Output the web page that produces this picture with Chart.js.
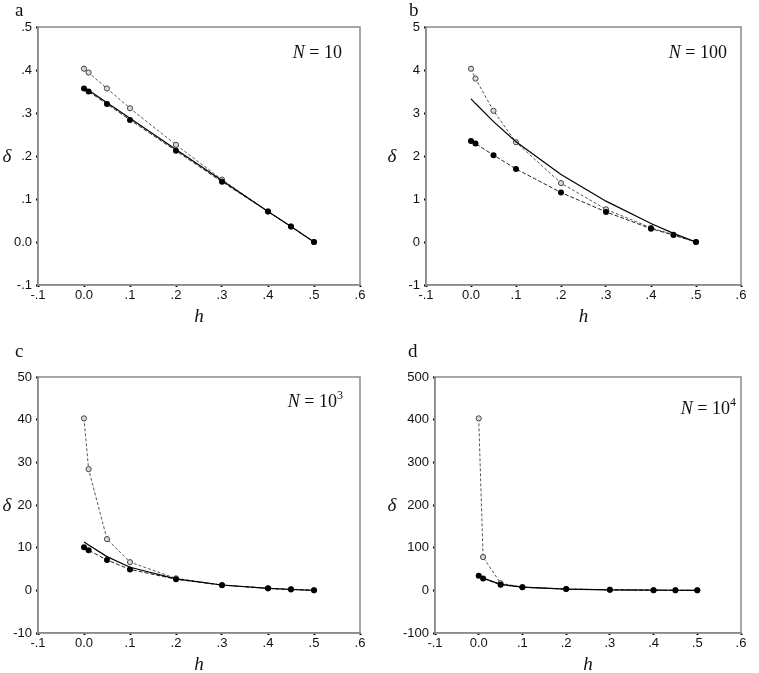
<!DOCTYPE html>
<html>
<head>
<meta charset="utf-8">
<script src="https://cdn.jsdelivr.net/npm/chart.js@4.4.1/dist/chart.umd.min.js"></script>
<style>
  html, body { margin: 0; padding: 0; background: #fff; }
  #wrap { position: relative; width: 759px; height: 673px; overflow: hidden; }
  .panel { position: absolute; }
</style>
</head>
<body>
<div id="wrap">
  <div class="panel" style="left:0px;top:0px;width:380px;height:330px;"><canvas id="ca"></canvas></div>
  <div class="panel" style="left:380px;top:0px;width:379px;height:330px;"><canvas id="cb"></canvas></div>
  <div class="panel" style="left:0px;top:330px;width:380px;height:343px;"><canvas id="cc"></canvas></div>
  <div class="panel" style="left:380px;top:330px;width:379px;height:343px;"><canvas id="cd"></canvas></div>
</div>
<script>
// ---------------- DATA ----------------
const hValues = [0, 0.01, 0.05, 0.1, 0.2, 0.3, 0.4, 0.45, 0.5];
const xTickLabels = ['-.1', '0.0', '.1', '.2', '.3', '.4', '.5', '.6'];

// Panel a, N = 10
const openA   = [0.403, 0.394, 0.357, 0.311, 0.226, 0.145, 0.071, 0.036, 0.0];
const filledA = [0.357, 0.350, 0.321, 0.284, 0.212, 0.140, 0.071, 0.036, 0.0];
const solidA  = [0.360, 0.353, 0.324, 0.288, 0.215, 0.143, 0.071, 0.036, 0.0];
const yTicksA = ['-.1', '0.0', '.1', '.2', '.3', '.4', '.5'];

// Panel b, N = 100
const openB   = [4.03, 3.80, 3.05, 2.32, 1.37, 0.76, 0.33, 0.17, 0.0];
const filledB = [2.35, 2.29, 2.02, 1.70, 1.15, 0.70, 0.31, 0.16, 0.0];
const solidB  = [3.33, 3.22, 2.80, 2.33, 1.57, 0.95, 0.43, 0.20, 0.0];
const yTicksB = ['-1', '0', '1', '2', '3', '4', '5'];

// Panel c, N = 10^3
const openC   = [40.3, 28.4, 12.0, 6.6, 2.8, 1.25, 0.45, 0.2, 0.0];
const filledC = [10.1, 9.4, 7.1, 4.9, 2.6, 1.2, 0.5, 0.25, 0.0];
const solidC  = [11.3, 10.6, 7.9, 5.4, 2.7, 1.25, 0.45, 0.2, 0.0];
const yTicksC = ['-10', '0', '10', '20', '30', '40', '50'];

// Panel d, N = 10^4
const openD   = [403, 78, 16.5, 7.5, 3.0, 1.3, 0.45, 0.2, 0.0];
const filledD = [34.3, 28.0, 13.3, 7.1, 3.0, 1.2, 0.4, 0.2, 0.0];
const solidD  = [35.0, 28.5, 14.0, 7.3, 3.0, 1.3, 0.45, 0.2, 0.0];
const yTicksD = ['-100', '0', '100', '200', '300', '400', '500'];

// ---------------- HELPERS ----------------
function pts(ys) { return hValues.map((h, i) => ({ x: h, y: ys[i] })); }

const tickFont = { family: '"Liberation Sans", Arial, sans-serif', size: 13 };
const serif = '"Liberation Serif", "Times New Roman", serif';

const framePlugin = {
  id: 'frame',
  afterDraw(chart) {
    const { ctx, chartArea: a } = chart;
    ctx.save();
    ctx.strokeStyle = '#8a8a8a';
    ctx.lineWidth = 1.5;
    ctx.strokeRect(a.left, a.top, a.right - a.left, a.bottom - a.top);
    ctx.restore();
  }
};

const labelPlugin = {
  id: 'labels',
  afterDraw(chart) {
    const o = chart.options.plugins.labels;
    const { ctx, chartArea: a } = chart;
    ctx.save();
    ctx.fillStyle = '#111';
    ctx.textBaseline = 'alphabetic';
    // panel letter
    ctx.font = '19px ' + serif;
    ctx.textAlign = 'left';
    ctx.fillText(o.letter, o.letterX, o.letterY);
    // delta
    ctx.font = 'italic 19px ' + serif;
    ctx.textAlign = 'center';
    ctx.fillText('δ', o.deltaX, (a.top + a.bottom) / 2 + 6);
    // h
    ctx.fillText('h', (a.left + a.right) / 2, a.bottom + 37);
    // N label (right aligned at o.nRight)
    const fN = 'italic 18px ' + serif, fR = '18px ' + serif, fS = '12px ' + serif;
    ctx.textAlign = 'left';
    ctx.font = fN; const wN = ctx.measureText('N').width;
    ctx.font = fR; const wEq = ctx.measureText(' = ' + o.nBase).width;
    ctx.font = fS; const wS = o.nSup ? ctx.measureText(o.nSup).width : 0;
    let x = o.nRight - (wN + wEq + wS);
    ctx.font = fN; ctx.fillText('N', x, o.nY); x += wN;
    ctx.font = fR; ctx.fillText(' = ' + o.nBase, x, o.nY); x += wEq;
    if (o.nSup) { ctx.font = fS; ctx.fillText(o.nSup, x, o.nY - 8); }
    ctx.restore();
  }
};

function makeChart(id, p) {
  const datasets = [
    { label: 'simulation (open)', data: pts(p.open), borderColor: '#555', borderWidth: 1,
      borderDash: [3, 2], pointRadius: 2.6, pointBorderWidth: 1, pointBorderColor: '#444',
      pointBackgroundColor: '#d8d8d8', order: 3, tension: 0 },
    { label: 'simulation (filled)', data: pts(p.filled), borderColor: '#222', borderWidth: 1,
      borderDash: [4, 2], pointRadius: 3, pointBorderWidth: 0, pointBackgroundColor: '#000',
      order: 2, tension: 0 },
    { label: 'theory', data: pts(p.solid), borderColor: '#000', borderWidth: 1.2,
      pointRadius: 0, order: 1, tension: 0 }
  ];
  new Chart(document.getElementById(id), {
    type: 'line',
    data: { datasets },
    plugins: [framePlugin, labelPlugin],
    options: {
      responsive: true,
      maintainAspectRatio: false,
      animation: false,
      layout: { padding: { top: p.padTop, right: p.padRight, left: 0, bottom: 0 } },
      plugins: {
        legend: { display: false },
        tooltip: { enabled: false },
        labels: p.labels
      },
      scales: {
        x: {
          type: 'linear', min: -0.1, max: 0.6,
          afterFit: s => { s.height = p.xH; },
          ticks: { stepSize: 0.1, autoSkip: false, maxRotation: 0, padding: 1,
                   font: tickFont, color: '#111',
                   callback: (v, i) => xTickLabels[i] },
          grid: { display: true, drawOnChartArea: false, drawTicks: true, tickLength: 2,
                  tickColor: '#000', tickWidth: 2 },
          border: { display: true, color: '#8a8a8a', width: 1.5 }
        },
        y: {
          type: 'linear', min: p.yMin, max: p.yMax,
          afterFit: s => { s.width = p.yW; },
          ticks: { stepSize: p.yStep, autoSkip: false, padding: 4, font: tickFont, color: '#111',
                   callback: (v, i) => p.yTicks[i] },
          grid: { display: true, drawOnChartArea: false, drawTicks: true, tickLength: 2,
                  tickColor: '#000', tickWidth: 2 },
          border: { display: true, color: '#8a8a8a', width: 1.5 }
        }
      }
    }
  });
}

makeChart('ca', { open: openA, filled: filledA, solid: solidA, yTicks: yTicksA,
  yMin: -0.1, yMax: 0.5, yStep: 0.1, yW: 38, xH: 45, padTop: 27, padRight: 20,
  labels: { letter: 'a', letterX: 15, letterY: 16, deltaX: 7, nRight: 342, nY: 58, nBase: '10', nSup: '' } });

makeChart('cb', { open: openB, filled: filledB, solid: solidB, yTicks: yTicksB,
  yMin: -1, yMax: 5, yStep: 1, yW: 46, xH: 45, padTop: 27, padRight: 18,
  labels: { letter: 'b', letterX: 29, letterY: 16, deltaX: 12, nRight: 347, nY: 58, nBase: '100', nSup: '' } });

makeChart('cc', { open: openC, filled: filledC, solid: solidC, yTicks: yTicksC,
  yMin: -10, yMax: 50, yStep: 10, yW: 38, xH: 40, padTop: 47, padRight: 20,
  labels: { letter: 'c', letterX: 15, letterY: 27, deltaX: 7, nRight: 343, nY: 77, nBase: '10', nSup: '3' } });

makeChart('cd', { open: openD, filled: filledD, solid: solidD, yTicks: yTicksD,
  yMin: -100, yMax: 500, yStep: 100, yW: 55, xH: 40, padTop: 47, padRight: 18,
  labels: { letter: 'd', letterX: 28, letterY: 27, deltaX: 12, nRight: 356, nY: 84, nBase: '10', nSup: '4' } });
</script>
</body>
</html>
